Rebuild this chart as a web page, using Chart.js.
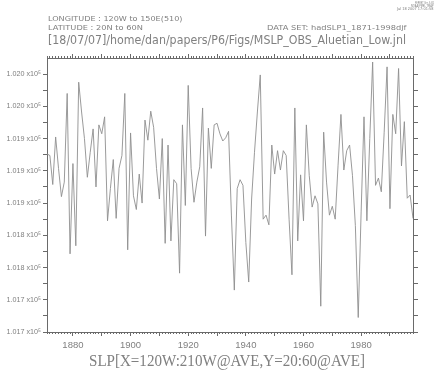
<!DOCTYPE html>
<html><head><meta charset="utf-8">
<script src="https://cdn.jsdelivr.net/npm/chart.js@4.4.0/dist/chart.umd.min.js"></script>
<style>
html,body{margin:0;padding:0;background:#fff;}
#wrap{position:relative;width:436px;height:377px;overflow:hidden;background:#fff;}
canvas{position:absolute;left:0;top:0;}
.t{position:absolute;white-space:nowrap;color:#808080;transform-origin:0 0;font-size:20px;line-height:20px;}
</style></head><body>
<div id="wrap">
<canvas id="c" width="436" height="377"></canvas>
<div class="t" id="f1">FERRET Ver. 5.81</div>
<div class="t" id="f2">NOAA/PMEL TMAP</div>
<div class="t" id="f3">Jul 18 2007 17:01:58</div>
<div class="t" id="h1">LONGITUDE : 120W to 150E(510)</div>
<div class="t" id="h2">LATITUDE : 20N to 60N</div>
<div class="t" id="h3">DATA SET: hadSLP1_1871-1998djf</div>
<div class="t" id="h4">[18/07/07]/home/dan/papers/P6/Figs/MSLP_OBS_Aluetian_Low.jnl</div>
<div class="t" id="ti">SLP[X=120W:210W@AVE,Y=20:60@AVE]</div>
</div>
<script>
// ---- data ----
const years = [
 1871,1872,1873,1874,1875,1876,1877,1878,1879,1880,
 1881,1882,1883,1884,1885,1886,1887,1888,1889,1890,
 1891,1892,1893,1894,1895,1896,1897,1898,1899,1900,
 1901,1902,1903,1904,1905,1906,1907,1908,1909,1910,
 1911,1912,1913,1914,1915,1916,1917,1918,1919,1920,
 1921,1922,1923,1924,1925,1926,1927,1928,1929,1930,
 1931,1932,1933,1934,1935,1936,1937,1938,1939,1940,
 1941,1942,1943,1944,1945,1946,1947,1948,1949,1950,
 1951,1952,1953,1954,1955,1956,1957,1958,1959,1960,
 1961,1962,1963,1964,1965,1966,1967,1968,1969,1970,
 1971,1972,1973,1974,1975,1976,1977,1978,1979,1980,
 1981,1982,1983,1984,1985,1986,1987,1988,1989,1990,
 1991,1992,1993,1994,1995,1996,1997,1998];
const slp = [
 101921,101919,101883,101942,101903,101868,101886,101996,101797,101909,
 101807,102010,101973,101940,101892,101923,101952,101880,101957,101946,
 101967,101838,101878,101914,101841,101903,101919,101996,101802,101947,
 101869,101852,101896,101860,101963,101938,101974,101954,101903,101865,
 101940,101810,101932,101813,101889,101884,101773,101957,101857,102006,
 101903,101861,101886,101905,101978,101819,101953,101903,101957,101959,
 101946,101937,101941,101949,101844,101752,101878,101889,101882,101811,
 101762,101865,101923,101973,102019,101840,101845,101833,101932,101896,
 101925,101901,101925,101919,101840,101771,101978,101813,101895,101838,
 101957,101894,101855,101869,101859,101732,101948,101886,101845,101856,
 101840,101907,101970,101901,101925,101932,101894,101832,101718,101849,
 101967,101838,101940,102035,101882,101891,101874,101948,102029,101853,
 101970,101946,102027,101906,101961,101866,101870,101841];
const xLabelYears = [1880,1900,1920,1940,1960,1980];
const xDecadeTicks = [1880,1890,1900,1910,1920,1930,1940,1950,1960,1970,1980,1990];
const yTickValues = [101700,101720,101740,101760,101780,101800,101820,101840,101860,101880,101900,101920,101940,101960,101980,102000,102020];
const yLabelValues = [101700,101740,101780,101820,101860,101900,101940,101980,102020];
const yTickLabels = ['1.017','1.017','1.018','1.018','1.019','1.019','1.019','1.020','1.020'];
const X_MIN = 1871, X_MAX = 1998, Y_MIN = 101700, Y_MAX = 102040;

// ---- text placement ----
function place(id, x, baseline, width, cap, family, capRatio, right){
  const el = document.getElementById(id);
  el.style.fontFamily = family;
  const w = el.getBoundingClientRect().width;
  const sx = width / w, sy = cap / (20*capRatio);
  el.style.transform = 'scale(' + sx + ',' + sy + ')';
  el.style.left = (right ? x - width : x) + 'px';
  el.style.top = (baseline - 0.846*20*sy) + 'px';
}
const SANS = '"DejaVu Sans", sans-serif';
place('f1', 433.5, 3.2, 19, 2.2, SANS, 0.729, true);
place('f2', 433.5, 6.3, 22.5, 2.2, SANS, 0.729, true);
place('f3', 433.5, 9.4, 36.5, 2.2, SANS, 0.729, true);
place('h1', 48.3, 20.2, 134.5, 4.8, SANS, 0.729, false);
place('h2', 48.3, 29.2, 95, 4.8, SANS, 0.729, false);
place('h3', 266.7, 29.2, 139.5, 4.8, SANS, 0.729, false);
place('h4', 48.3, 44.3, 358, 9.0, SANS, 0.729, false);
place('ti', 89, 365.6, 276, 10.6, '"Liberation Serif", serif', 0.655, false);

// ---- chart ----
const GRAY = '#808080', AX = '#6a6a6a';
const pts = years.map((y, i) => ({x: y, y: slp[i]}));
const setTicks = arr => (s => { s.ticks = arr.map(v => ({value: v})); });
const tickFont = {family: '"Liberation Sans", sans-serif', size: 9.5};

new Chart(document.getElementById('c'), {
  type: 'line',
  data: {datasets: [{data: pts, xAxisID: 'x', yAxisID: 'y', borderColor: '#8e8e8e', borderWidth: 0.9,
    pointRadius: 0, tension: 0, fill: false}]},
  options: {
    responsive: false, animation: false, events: [],
    layout: {padding: 0},
    plugins: {legend: {display: false}, tooltip: {enabled: false}, title: {display: false}},
    scales: {
      xMinor: {type: 'linear', position: 'bottom', weight: 0, min: X_MIN, max: X_MAX,
        afterBuildTicks: setTicks(years), ticks: {display: false, autoSkip: false},
        grid: {drawOnChartArea: false, tickLength: 2, tickColor: AX, tickWidth: 1},
        border: {display: true, color: AX, width: 1},
        afterFit: s => { s.height = 0; }},
      x: {type: 'linear', position: 'bottom', weight: 1, min: X_MIN, max: X_MAX,
        afterBuildTicks: setTicks(xDecadeTicks),
        ticks: {autoSkip: false, maxRotation: 0, padding: 4, color: GRAY, font: tickFont,
          callback: v => xLabelYears.includes(v) ? String(v) : ''},
        grid: {drawOnChartArea: false, tickLength: 4, tickColor: AX, tickWidth: 1},
        border: {display: true, color: AX, width: 1},
        afterFit: s => { s.height = 45; }},
      xTopMinor: {type: 'linear', position: 'top', weight: 0, min: X_MIN, max: X_MAX,
        afterBuildTicks: setTicks(years), ticks: {display: false, autoSkip: false},
        grid: {drawOnChartArea: false, tickLength: 2, tickColor: AX, tickWidth: 1},
        border: {display: true, color: AX, width: 1},
        afterFit: s => { s.height = 0; }},
      xTop: {type: 'linear', position: 'top', weight: 1, min: X_MIN, max: X_MAX,
        afterBuildTicks: setTicks(xDecadeTicks), ticks: {display: false, autoSkip: false},
        grid: {drawOnChartArea: false, tickLength: 4, tickColor: AX, tickWidth: 1},
        border: {display: true, color: AX, width: 1},
        afterFit: s => { s.height = 58; }},
      y: {type: 'linear', position: 'left', min: Y_MIN, max: Y_MAX,
        afterBuildTicks: setTicks(yTickValues),
        ticks: {autoSkip: false, padding: 2, color: GRAY,
          font: {family: '"Liberation Sans", sans-serif', size: 7.2},
          callback: v => { const k = yLabelValues.indexOf(v); return k >= 0 ? yTickLabels[k] + ' x10\u2075' : ''; }},
        grid: {drawOnChartArea: false, tickLength: 4, tickColor: AX, tickWidth: 1},
        border: {display: true, color: AX, width: 1},
        afterFit: s => { s.width = 47; }},
      yRight: {type: 'linear', position: 'right', min: Y_MIN, max: Y_MAX,
        afterBuildTicks: setTicks(yTickValues), ticks: {display: false, autoSkip: false},
        grid: {drawOnChartArea: false, tickLength: 5, tickColor: AX, tickWidth: 1},
        border: {display: true, color: AX, width: 1},
        afterFit: s => { s.width = 23; }}
    }
  }
});
</script>
</body></html>
